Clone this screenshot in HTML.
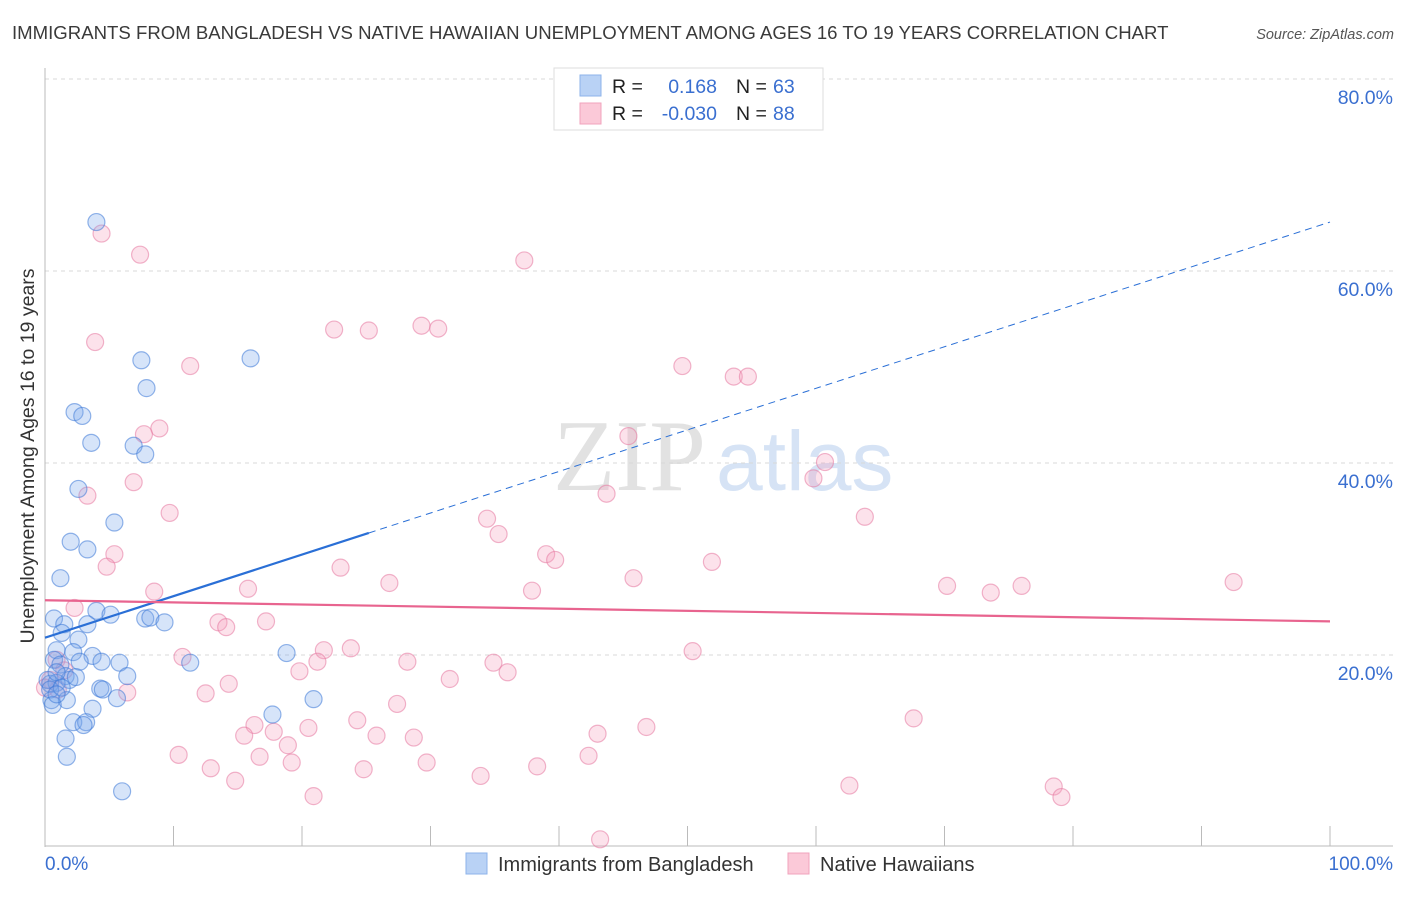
<!DOCTYPE html>
<html><head><meta charset="utf-8"><style>
body{margin:0;background:#fff;width:1406px;height:892px;overflow:hidden;font-family:"Liberation Sans",sans-serif}
</style></head><body>
<svg id="chart" width="1406" height="892" xmlns="http://www.w3.org/2000/svg" font-family="Liberation Sans, sans-serif">
<text x="12" y="39" font-size="18.6" fill="#3a3a3a">IMMIGRANTS FROM BANGLADESH VS NATIVE HAWAIIAN UNEMPLOYMENT AMONG AGES 16 TO 19 YEARS CORRELATION CHART</text>
<text x="1394" y="39" font-size="14.5" fill="#555" font-style="italic" text-anchor="end">Source: ZipAtlas.com</text>
<g>
<text x="553" y="490" font-family="Liberation Serif, serif" font-size="102" fill="#e2e2e2">ZIP</text>
<text x="716" y="490" font-size="84" fill="#d6e3f5">atlas</text>
</g>
<g id="grid"></g>
<g id="axes"></g>
<g id="pts"></g>
<g id="trend"></g>
<text transform="translate(34,456) rotate(-90)" font-size="19.5" fill="#333" text-anchor="middle">Unemployment Among Ages 16 to 19 years</text>
<g>
<rect x="554" y="68" width="269" height="62" fill="#fff" stroke="#ddd"/>
<rect x="580" y="75" width="21" height="21" fill="#b9d2f5" stroke="#8db3ea"/>
<rect x="580" y="103" width="21" height="21" fill="#fbc9d8" stroke="#f0a3bd"/>
<text x="612" y="93" font-size="19.5" fill="#222">R =</text>
<text x="717" y="93" font-size="19.5" fill="#3a6fd0" text-anchor="end">0.168</text>
<text x="736" y="93" font-size="19.5" fill="#222">N =</text>
<text x="773" y="93" font-size="19.5" fill="#3a6fd0">63</text>
<text x="612" y="120" font-size="19.5" fill="#222">R =</text>
<text x="717" y="120" font-size="19.5" fill="#3a6fd0" text-anchor="end">-0.030</text>
<text x="736" y="120" font-size="19.5" fill="#222">N =</text>
<text x="773" y="120" font-size="19.5" fill="#3a6fd0">88</text>
</g>
<g>
<rect x="466" y="853" width="21" height="21" fill="#b9d2f5" stroke="#8db3ea"/>
<text x="498" y="871" font-size="20" fill="#333">Immigrants from Bangladesh</text>
<rect x="788" y="853" width="21" height="21" fill="#fbc9d8" stroke="#f0a3bd"/>
<text x="820" y="871" font-size="20" fill="#333">Native Hawaiians</text>
</g>
</svg>
<script>
const blueX=[4.0,7.5,16.0,7.9,2.3,2.9,3.6,6.9,7.8,2.6,5.4,2.0,3.3,1.2,4.0,0.7,5.1,7.8,8.2,9.3,1.5,3.3,1.3,2.6,0.9,2.2,5.8,3.7,4.4,11.3,18.8,0.7,1.2,2.7,1.6,1.9,0.4,0.9,2.4,6.4,4.3,4.5,5.6,0.5,1.7,20.9,3.7,17.7,2.2,3.2,3.0,1.6,1.7,6.0,0.2,0.4,0.9,1.3,0.6,0.9];
const blueY=[65.1,50.7,50.9,47.8,45.3,44.9,42.1,41.8,40.9,37.3,33.8,31.8,31.0,28.0,24.6,23.8,24.2,23.8,23.9,23.4,23.2,23.2,22.3,21.6,20.5,20.3,19.2,19.9,19.3,19.2,20.2,19.5,19.0,19.3,17.8,17.4,17.0,17.1,17.7,17.8,16.5,16.4,15.5,15.3,15.3,15.4,14.4,13.8,13.0,13.0,12.7,11.3,9.4,5.8,17.4,16.4,18.2,16.6,14.8,15.9];
const pinkX=[4.4,7.4,37.3,3.9,22.5,25.2,29.3,30.6,11.3,49.6,53.6,54.7,8.9,7.7,45.4,60.7,59.8,6.9,3.3,43.7,9.7,34.4,63.8,35.3,5.4,39.0,39.7,4.8,23.0,51.9,8.5,15.8,26.8,37.9,45.8,70.2,73.6,76.0,92.5,2.3,13.5,14.1,17.2,23.8,21.7,50.4,10.7,21.2,28.2,34.9,36.0,0.9,1.5,19.8,31.5,14.3,12.5,6.4,27.4,24.3,16.3,17.8,15.5,20.5,25.8,28.7,43.0,46.8,67.6,18.9,10.4,16.7,19.2,12.9,29.7,24.8,38.3,42.3,33.9,14.8,62.6,78.5,79.1,20.9,43.2,0.4,1.0,0.0];
const pinkY=[63.9,61.7,61.1,52.6,53.9,53.8,54.3,54.0,50.1,50.1,49.0,49.0,43.6,43.0,42.8,40.1,38.4,38.0,36.6,36.8,34.8,34.2,34.4,32.6,30.5,30.5,29.9,29.2,29.1,29.7,26.6,26.9,27.5,26.7,28.0,27.2,26.5,27.2,27.6,24.9,23.4,22.9,23.5,20.7,20.5,20.4,19.8,19.3,19.3,19.2,18.2,19.5,18.4,18.3,17.5,17.0,16.0,16.1,14.9,13.2,12.7,12.0,11.6,12.4,11.6,11.4,11.8,12.5,13.4,10.6,9.6,9.4,8.8,8.2,8.8,8.1,8.4,9.5,7.4,6.9,6.4,6.3,5.2,5.3,0.8,17.4,16.4,16.6];
const yTicks=[20,40,60,80];
const yTickLabels=["20.0%","40.0%","60.0%","80.0%"];
const xTicks=[0,10,20,30,40,50,60,70,80,90,100];
const blueTrend=[21.8,65.1];   // y at x=0 and x=100
const blueSolidEnd=25.2;       // x where solid segment ends
const pinkTrend=[25.7,23.5];

const NS="http://www.w3.org/2000/svg";
const X=v=>45+v*12.85, Y=v=>847-v*9.6;
function mk(tag,attrs,parent){const e=document.createElementNS(NS,tag);for(const k in attrs)e.setAttribute(k,attrs[k]);parent.appendChild(e);return e;}
const grid=document.getElementById('grid'),axes=document.getElementById('axes'),pts=document.getElementById('pts'),trend=document.getElementById('trend');
yTicks.forEach((t,i)=>{
  const l=mk('line',{x1:45,x2:1393,y1:Y(t),y2:Y(t),stroke:'#d8d8d8','stroke-dasharray':'4,4'},grid);
  
  
  const tx=mk('text',{x:1393,y:Y(t)+25,'font-size':19.5,fill:'#3a6fd0','text-anchor':'end'},axes);
  tx.textContent=yTickLabels[i];
  
  
});
const ya=mk('line',{x1:45,x2:45,y1:68,y2:847,stroke:'#bbb'},axes);


const xa=mk('line',{x1:45,x2:1393,y1:846,y2:846,stroke:'#bbb'},axes);


xTicks.forEach(t=>{
  const k=mk('line',{x1:X(t),x2:X(t),y1:826,y2:846,stroke:'#bbb'},axes);
  
  
});
const x0=mk('text',{x:45,y:870,'font-size':19,fill:'#3a6fd0'},axes);x0.textContent='0.0%';


const x1=mk('text',{x:1393,y:870,'font-size':19,fill:'#3a6fd0','text-anchor':'end'},axes);x1.textContent='100.0%';


pinkX.forEach((v,i)=>{
  const c=mk('circle',{cx:X(v),cy:Y(pinkY[i]),r:8.5,fill:'rgba(246,160,190,0.3)',stroke:'rgba(230,120,160,0.55)','stroke-width':1.2},pts);
  
  
});
blueX.forEach((v,i)=>{
  const c=mk('circle',{cx:X(v),cy:Y(blueY[i]),r:8.5,fill:'rgba(120,165,235,0.3)',stroke:'rgba(60,120,215,0.55)','stroke-width':1.2},pts);
  
  
});
const by=x=>blueTrend[0]+(blueTrend[1]-blueTrend[0])*x/100;
const b1=mk('line',{x1:X(0),y1:Y(by(0)),x2:X(blueSolidEnd),y2:Y(by(blueSolidEnd)),stroke:'#2a6fd6','stroke-width':2.2},trend);


const b2=mk('line',{x1:X(blueSolidEnd),y1:Y(by(blueSolidEnd)),x2:X(100),y2:Y(by(100)),stroke:'#2a6fd6','stroke-width':1,'stroke-dasharray':'7,5'},trend);


const p1=mk('line',{x1:X(0),y1:Y(pinkTrend[0]),x2:X(100),y2:Y(pinkTrend[1]),stroke:'#e8648f','stroke-width':2.2},trend);


</script>
</body></html>
